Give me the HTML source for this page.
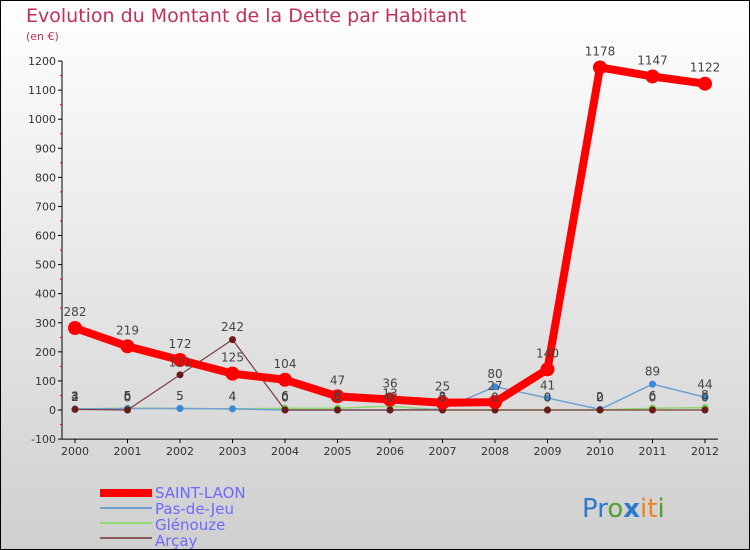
<!DOCTYPE html>
<html><head><meta charset="utf-8"><style>
body{margin:0}
svg{display:block;font-family:"DejaVu Sans","Liberation Sans",sans-serif}
</style></head><body>
<svg id="chart" width="750" height="550" viewBox="0 0 750 550">
<defs><linearGradient id="bg" x1="0" y1="0" x2="0" y2="1"><stop offset="0" stop-color="#ffffff"/><stop offset="1" stop-color="#cfcfcf"/></linearGradient></defs>
<rect x="0.5" y="0.5" width="749" height="549" fill="url(#bg)" stroke="#000"/>
<text x="26" y="22" font-size="19" fill="#c0305a">Evolution du Montant de la Dette par Habitant</text>
<text x="26" y="40" font-size="11" fill="#c0305a">(en €)</text>
<g id="axes"></g><g id="series"></g><g id="labels"></g>
<g>
<rect x="100" y="489" width="52" height="8" fill="#ff0000"/>
<text x="155" y="498" font-size="15" fill="#6a6aff">SAINT-LAON</text>
<rect x="100" y="507" width="52" height="2" fill="#6fa0d0"/>
<text x="155" y="514" font-size="15" fill="#6a6aff">Pas-de-Jeu</text>
<rect x="100" y="522" width="52" height="2" fill="#90d870"/>
<text x="155" y="530" font-size="15" fill="#6a6aff">Glénouze</text>
<rect x="100" y="537" width="52" height="2" fill="#8a5a5a"/>
<text x="155" y="546" font-size="15" fill="#6a6aff">Arçay</text>
</g>
<text x="582" y="517" font-size="26"><tspan fill="#2a7ad0">Pr</tspan><tspan fill="#50a030">o</tspan><tspan fill="#2a7ad0" font-weight="bold">x</tspan><tspan fill="#f08020">it</tspan><tspan fill="#50a030">i</tspan></text>
</svg>
<script>
const years=[2000,2001,2002,2003,2004,2005,2006,2007,2008,2009,2010,2011,2012];
const yTicks=[-100,0,100,200,300,400,500,600,700,800,900,1000,1100,1200];
const saintLaon=[282,219,172,125,104,47,36,25,27,140,1178,1147,1122];
const pasDeJeu=[4,5,5,4,0,0,0,3,80,41,2,89,44];
const glenouze=[3,6,5,4,6,6,13,0,0,0,0,6,8];
const arcay=[2,0,121,242,0,0,0,0,0,0,0,0,0];
const NS="http://www.w3.org/2000/svg";
const X=i=>75+i*52.5, Y=v=>410-v*0.2908;
function mk(t,a,p){const e=document.createElementNS(NS,t);for(const k in a)e.setAttribute(k,a[k]);p.appendChild(e);return e;}
const ax=document.getElementById('axes'),sg=document.getElementById('series'),lg=document.getElementById('labels');
let a=mk('line',{x1:62,x2:62,y1:Y(1200),y2:Y(-100),stroke:'#000'},ax);

a=mk('line',{x1:62,x2:718,y1:Y(-100),y2:Y(-100),stroke:'#000'},ax);

yTicks.forEach(v=>{const l=mk('line',{x1:58,x2:62,y1:Y(v),y2:Y(v),stroke:'#000'},ax);

if(v<1200){const m=mk('line',{x1:60,x2:62,y1:Y(v+50),y2:Y(v+50),stroke:'#e00'},ax);}
const t=mk('text',{x:56,y:Y(v)+4,'font-size':11,fill:'#333','text-anchor':'end'},ax);t.textContent=v;
});
years.forEach((yr,i)=>{const l=mk('line',{x1:X(i),x2:X(i),y1:Y(-100),y2:Y(-100)+4,stroke:'#000'},ax);

const t=mk('text',{x:X(i),y:Y(-100)+16,'font-size':11,fill:'#333','text-anchor':'middle'},ax);t.textContent=yr;
});
function draw(vals,name,col,w,r,dot){
const p=mk('polyline',{points:vals.map((v,i)=>X(i)+','+Y(v)).join(' '),fill:'none',stroke:col,'stroke-width':w,'stroke-linejoin':'round'},sg);

vals.forEach((v,i)=>{const c=mk('circle',{cx:X(i),cy:Y(v),r:r,fill:dot},sg);

const t=mk('text',{x:X(i),y:Y(v)-(r+5),'font-size':12,fill:'#444','text-anchor':'middle'},lg);t.textContent=v;
});}
draw(glenouze,'glenouze','#90d870',1.5,3.5,'#70d040');
draw(pasDeJeu,'pas-de-jeu','#6fa0d0',1.5,3.5,'#3a8ad8');
draw(arcay,'arcay','#7a3a3a',1.2,3.5,'#6a1a1a');
draw(saintLaon,'saint-laon','#ff0000',8,7,'#ff0000');
</script>
</body></html>
